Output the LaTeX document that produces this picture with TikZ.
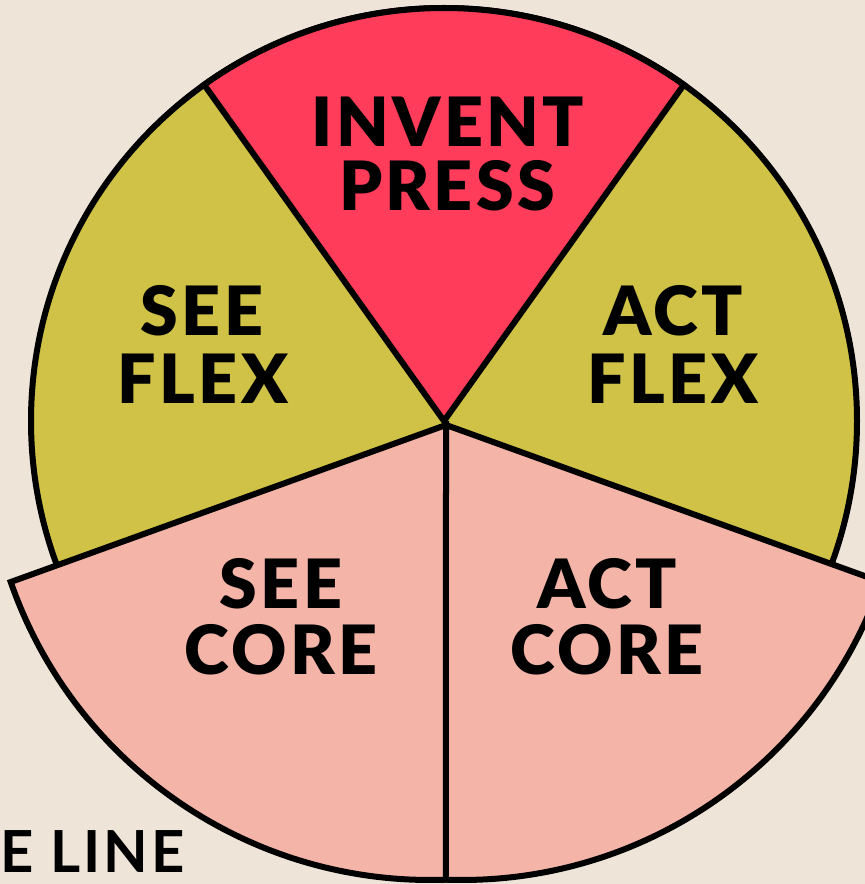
\documentclass[tikz,border=0pt]{standalone}
\usepackage{fontspec}
\setmainfont{Lato}
\newfontfamily\wedgefont{Lato Black}[LetterSpace=5]
\newfontfamily\tagfont{Lato}[LetterSpace=5]
\usetikzlibrary{calc}

\definecolor{paper}{HTML}{EEE5D8}
\definecolor{flexfill}{HTML}{CFC247}
\definecolor{pressfill}{HTML}{FF3D5A}
\definecolor{corefill}{HTML}{F4B5A8}

\begin{document}
\begin{tikzpicture}[x=1pt, y=1pt,
  wedge/.style={draw=black, line width=6pt, line join=miter},
  lbl/.style={anchor=base, inner sep=0pt,
    font=\wedgefont\fontsize{68}{68}\selectfont},
  tag/.style={anchor=base west, inner sep=0pt,
    font=\tagfont\fontsize{58}{58}\selectfont\bfseries}]

\useasboundingbox[fill=paper] (0,0) rectangle (865,884);

% centres of the upper disc and of the two lower wedges
\coordinate (hub) at (444,463);
\coordinate (corehub) at (446,459);
\coordinate (seearc) at (430,448);
\coordinate (actarc) at (462,448);

% upper disc: the two FLEX wedges
\draw[wedge, fill=flexfill] (hub) circle[radius=413];
% top wedge
\draw[wedge, fill=pressfill] (hub) -- ([shift={(54.5:413)}]hub)
  arc[start angle=54.5, end angle=125.5, radius=413] -- cycle;
% lower wedges, set a little lower and wider
\draw[wedge, fill=corefill] (corehub) -- ([shift={(199.2:444)}]seearc)
  arc[start angle=199.2, end angle=272.07, radius=444] -- cycle;
\draw[wedge, fill=corefill] (corehub) -- ([shift={(267.93:444)}]actarc)
  arc[start angle=267.93, end angle=340.8, radius=444] -- cycle;

% labels
\node[lbl] (invent) at (448,737) {INVENT};
\node[lbl] (press) at (447,673) {PRESS};
\node[lbl] (seeflexA) at (202,548) {SEE};
\node[lbl] (seeflexB) at (203,480) {FLEX};
\node[lbl] (actflexA) at (673,548) {ACT};
\node[lbl] (actflexB) at (673,480) {FLEX};
\node[lbl] (seecoreA) at (281,275) {SEE};
\node[lbl] (seecoreB) at (281,209) {CORE};
\node[lbl] (actcoreA) at (607,275) {ACT};
\node[lbl] (actcoreB) at (607,209) {CORE};
\node[tag] (eline) at (0,12) {E LINE};
\end{tikzpicture}
\end{document}
